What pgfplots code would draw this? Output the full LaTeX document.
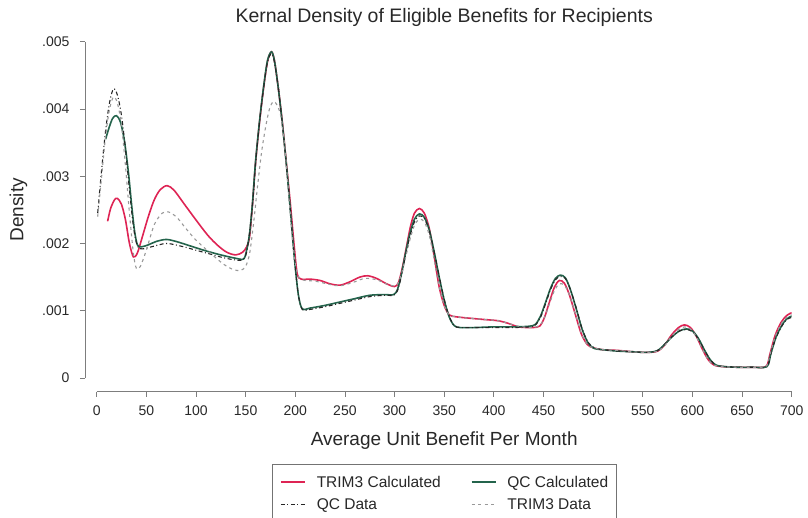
\documentclass[border=0pt]{standalone}
\usepackage{pgfplots}
\pgfplotsset{compat=1.18}
\usepackage{fontspec}
\setmainfont{Liberation Sans}

\definecolor{trimred}{RGB}{222,36,84}
\definecolor{qcgreen}{RGB}{36,100,76}
\definecolor{axgray}{RGB}{125,125,125}
\definecolor{txtgray}{RGB}{40,40,40}

\begin{document}
\begin{tikzpicture}
\useasboundingbox (-96.7pt,-139pt) rectangle (711.3pt,378pt);
\begin{axis}[
  at={(0pt,0pt)}, anchor=south west,
  scale only axis, width=695pt, height=336.3pt,
  xmin=0, xmax=700, ymin=0, ymax=0.005,
  enlargelimits=false,
  axis lines=left,
  axis line style={-, axgray, line width=0.8pt},
  axis x line shift=13.7pt,
  axis y line shift=11.7pt,
  tick align=outside,
  major tick length=5pt,
  tick style={axgray, line width=0.8pt},
  xtick={0,50,...,700},
  ytick={0,0.001,0.002,0.003,0.004,0.005},
  yticklabels={0,.001,.002,.003,.004,.005},
  scaled y ticks=false,
  /pgf/number format/assume math mode=true,
  ticklabel style={font=\fontsize{14}{16}\selectfont, text=txtgray},
  xticklabel style={yshift=-5pt},
  yticklabel style={xshift=-7pt},
  title={Kernal Density of Eligible Benefits for Recipients},
  title style={font=\fontsize{19.5}{23}\selectfont, text=txtgray, anchor=base,
    at={(axis description cs:0.5,1)}, yshift=13.5pt},
  xlabel={Average Unit Benefit Per Month},
  xlabel style={font=\fontsize{19}{22}\selectfont, text=txtgray, anchor=base,
    at={(axis description cs:0.5,0)}, yshift=-67pt},
  ylabel={Density},
  ylabel style={font=\fontsize{19}{22}\selectfont, text=txtgray, anchor=base,
    at={(axis description cs:-0.1056,0.5)}},
  legend columns=2,
  legend cell align=left,
  legend image code/.code={\draw[#1] (0pt,0pt) -- (24pt,0pt);},
  legend style={
    at={(axis description cs:0.2522,-0.2557)}, anchor=north west,
    draw=black!55, fill=white,
    font=\fontsize{15.5}{18}\selectfont, text=txtgray,
    inner xsep=8pt, inner ysep=9pt,
    nodes={inner sep=0pt, text height=14pt, text depth=4pt},
    row sep=4.6pt,
    /tikz/every odd column/.append style={column sep=11pt},
    /tikz/every even column/.append style={column sep=30pt},
  },
]

% TRIM3 calculated benefits
\addplot[trimred, line width=1.6pt, smooth, tension=0.5] coordinates {
(11,0.00233) (14,0.00252) (18,0.00265) (21,0.00267) (25,0.00258) (29,0.00235)
(33,0.00200) (37,0.00180) (41,0.00186) (46,0.00210) (52,0.00240) (58,0.00265)
(64,0.00280) (71,0.00286) (78,0.00279) (88,0.00259) (100,0.00235) (112,0.00212)
(122,0.00197) (131,0.00187) (140,0.00183) (147,0.00187) (151,0.00195) (154,0.00210)
(157,0.00260) (160,0.00320) (164,0.00380) (168,0.00430) (172,0.00470) (176,0.00485)
(179,0.00472) (183,0.00430) (187,0.00380) (191,0.00320) (195,0.00260) (199,0.00195)
(202,0.00155) (206,0.00147) (215,0.00147) (225,0.00145) (235,0.00140) (245,0.00138)
(255,0.00143) (265,0.00150) (273,0.00152) (282,0.00148) (292,0.00140) (300,0.00136)
(304,0.00142) (308,0.00165) (312,0.00195) (316,0.00225) (320,0.00245) (325,0.00252)
(330,0.00245) (335,0.00222) (340,0.00180) (345,0.00135) (350,0.00108) (355,0.00094)
(362,0.00091) (375,0.00089) (390,0.00087) (405,0.00085) (415,0.00081) (425,0.00076)
(438,0.00075) (446,0.00077) (451,0.00090) (456,0.00113) (461,0.00135) (466,0.00145)
(471,0.00141) (476,0.00124) (482,0.00095) (488,0.00066) (494,0.00050) (500,0.00045)
(510,0.00042) (525,0.00041) (540,0.00039) (555,0.00038) (565,0.00040) (572,0.00049)
(579,0.00064) (586,0.00075) (592,0.00079) (598,0.00075) (604,0.00062) (610,0.00043)
(616,0.00027) (622,0.00019) (630,0.00017) (645,0.00016) (660,0.00016) (674,0.00017)
(678,0.00035) (683,0.00062) (689,0.00082) (695,0.00093) (700,0.00097)
};
\addlegendentry{TRIM3 Calculated}

% QC calculated benefits
\addplot[qcgreen, line width=1.6pt, smooth, tension=0.5] coordinates {
(9,0.00355) (12,0.00370) (16,0.00386) (20,0.00390) (24,0.00380) (28,0.00352)
(32,0.00305) (35,0.00260) (38,0.00220) (41,0.00198) (45,0.00195) (52,0.00198)
(60,0.00203) (70,0.00206) (80,0.00203) (95,0.00196) (110,0.00189) (125,0.00183)
(140,0.00178) (148,0.00177) (151,0.00190) (154,0.00215) (157,0.00262) (160,0.00322)
(164,0.00382) (168,0.00432) (172,0.00472) (176,0.00485) (179,0.00472) (183,0.00430)
(187,0.00378) (191,0.00318) (195,0.00250) (199,0.00180) (203,0.00125) (207,0.00103)
(215,0.00104) (230,0.00108) (245,0.00113) (260,0.00118) (275,0.00123) (290,0.00124)
(299,0.00124) (303,0.00132) (307,0.00155) (311,0.00185) (315,0.00212) (320,0.00236)
(325,0.00244) (330,0.00239) (335,0.00220) (340,0.00187) (345,0.00150) (350,0.00116)
(355,0.00091) (360,0.00078) (366,0.00075) (380,0.00075) (400,0.00076) (420,0.00076)
(436,0.00077) (442,0.00080) (447,0.00092) (452,0.00112) (457,0.00133) (462,0.00148)
(467,0.00153) (472,0.00149) (477,0.00132) (483,0.00103) (489,0.00072) (495,0.00052)
(501,0.00044) (510,0.00042) (525,0.00040) (540,0.00039) (555,0.00038) (565,0.00041)
(572,0.00050) (580,0.00062) (587,0.00070) (594,0.00073) (600,0.00070) (606,0.00059)
(612,0.00042) (618,0.00027) (624,0.00019) (632,0.00017) (645,0.00016) (660,0.00016)
(675,0.00017) (679,0.00036) (684,0.00060) (690,0.00078) (695,0.00088) (700,0.00092)
};
\addlegendentry{QC Calculated}

% QC data
\addplot[black!85, line width=1.1pt, dash pattern=on 4pt off 2.5pt on 1pt off 2.5pt, smooth, tension=0.5] coordinates {
(1,0.00245) (5,0.00310) (9,0.00368) (13,0.00410) (17,0.00430) (21,0.00420)
(25,0.00390) (29,0.00340) (33,0.00280) (37,0.00225) (41,0.00196) (46,0.00192)
(55,0.00195) (70,0.00200) (85,0.00196) (100,0.00190) (115,0.00184) (130,0.00178)
(145,0.00175) (150,0.00182) (153,0.00205) (157,0.00258) (160,0.00318) (164,0.00380)
(168,0.00430) (172,0.00470) (176,0.00482) (179,0.00470) (183,0.00430) (187,0.00378)
(191,0.00318) (195,0.00250) (199,0.00180) (203,0.00125) (207,0.00102) (215,0.00102)
(230,0.00106) (245,0.00111) (260,0.00116) (275,0.00121) (290,0.00123) (299,0.00123)
(303,0.00130) (307,0.00152) (311,0.00182) (315,0.00208) (320,0.00232) (325,0.00241)
(330,0.00237) (335,0.00219) (340,0.00187) (345,0.00151) (350,0.00117) (355,0.00092)
(360,0.00078) (366,0.00075) (380,0.00075) (400,0.00075) (420,0.00075) (436,0.00076)
(442,0.00079) (447,0.00090) (452,0.00110) (457,0.00131) (462,0.00146) (467,0.00151)
(472,0.00148) (477,0.00132) (483,0.00104) (489,0.00073) (495,0.00053) (501,0.00045)
(510,0.00042) (525,0.00040) (540,0.00039) (555,0.00038) (565,0.00041) (572,0.00050)
(580,0.00062) (587,0.00070) (594,0.00072) (600,0.00069) (606,0.00058) (612,0.00042)
(618,0.00027) (624,0.00019) (632,0.00017) (645,0.00016) (660,0.00016) (675,0.00017)
(679,0.00036) (684,0.00059) (690,0.00077) (695,0.00087) (700,0.00090)
};
\addlegendentry{QC Data}

% TRIM3 data
\addplot[gray!80, line width=1.1pt, dash pattern=on 3pt off 3.5pt, smooth, tension=0.5] coordinates {
(1,0.00240) (5,0.00300) (9,0.00360) (13,0.00400) (17,0.00418) (21,0.00408)
(25,0.00375) (29,0.00315) (33,0.00245) (37,0.00185) (40,0.00163) (44,0.00166)
(50,0.00190) (58,0.00228) (66,0.00245) (72,0.00247) (80,0.00240) (90,0.00222)
(100,0.00205) (115,0.00185) (128,0.00169) (138,0.00161) (145,0.00160) (150,0.00166)
(154,0.00185) (158,0.00230) (162,0.00285) (166,0.00335) (170,0.00372) (174,0.00400)
(178,0.00411) (182,0.00405) (186,0.00385) (190,0.00335) (194,0.00262) (198,0.00195)
(202,0.00156) (207,0.00146) (220,0.00144) (235,0.00139) (245,0.00137) (258,0.00142)
(270,0.00148) (282,0.00146) (295,0.00138) (302,0.00138) (306,0.00150) (310,0.00172)
(315,0.00203) (320,0.00227) (325,0.00236) (330,0.00232) (335,0.00212) (340,0.00175)
(345,0.00135) (350,0.00108) (355,0.00094) (362,0.00091) (375,0.00089) (390,0.00087)
(405,0.00085) (415,0.00081) (425,0.00077) (438,0.00075) (446,0.00078) (451,0.00090)
(456,0.00110) (461,0.00130) (466,0.00140) (471,0.00138) (476,0.00124) (482,0.00096)
(488,0.00067) (494,0.00050) (500,0.00045) (510,0.00042) (525,0.00041) (540,0.00039)
(555,0.00038) (565,0.00040) (572,0.00048) (579,0.00062) (586,0.00072) (592,0.00076)
(598,0.00073) (604,0.00061) (610,0.00043) (616,0.00027) (622,0.00019) (630,0.00017)
(645,0.00016) (660,0.00016) (674,0.00017) (678,0.00034) (683,0.00060) (689,0.00080)
(695,0.00090) (700,0.00094)
};
\addlegendentry{TRIM3 Data}

\end{axis}
\end{tikzpicture}
\end{document}
